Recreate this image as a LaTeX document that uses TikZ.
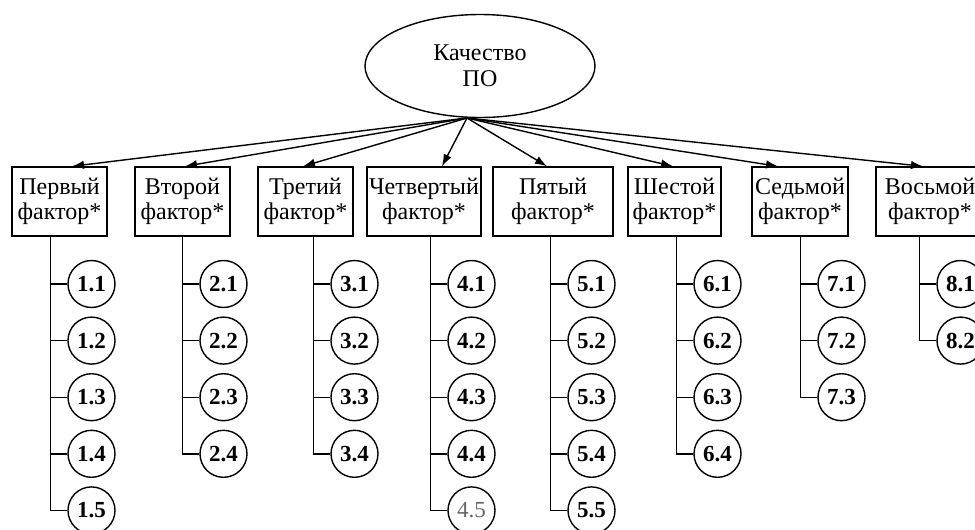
\documentclass[tikz,border=0pt]{standalone}
\usepackage{fontspec}
\setmainfont{Liberation Serif}
\usetikzlibrary{shapes.geometric,arrows.meta}
\tikzset{
  ln/.style={line width=1.4pt},
  fbox/.style={draw, ln, minimum height=69pt, inner sep=0pt, align=center,
    font=\fontsize{24}{25}\selectfont},
  root/.style={draw, ln, ellipse, minimum width=230pt, minimum height=103pt,
    inner sep=0pt, align=center, font=\fontsize{24}{25.5}\selectfont},
  crit/.style={draw, ln, circle, minimum size=47pt, inner sep=0pt,
    font=\fontsize{23}{23}\selectfont\bfseries},
  faint/.style={crit, font=\fontsize{23}{23}\selectfont, text=black!60},
  arr/.style={ln, -{Latex[length=12pt,width=8.5pt]}},
  tree/.style={ln},
}
\begin{document}
\begin{tikzpicture}[x=1pt,y=-1pt]
\clip (0,0) rectangle (975,530);

% root of the hierarchy
\node[root] (q) at (480,66) {Качество\\ПО};
\coordinate (hub) at (467,118);

% factors
\node[fbox, minimum width=95pt]  (b1) at (59.5,201.5)  {Первый\\фактор*};
\node[fbox, minimum width=95pt]  (b2) at (182.5,201.5) {Второй\\фактор*};
\node[fbox, minimum width=95pt]  (b3) at (305.5,201.5) {Третий\\фактор*};
\node[fbox, minimum width=114pt] (b4) at (424,201.5)   {Четвертый\\фактор*};
\node[fbox, minimum width=120pt] (b5) at (553,201.5)   {Пятый\\фактор*};
\node[fbox, minimum width=93pt]  (b6) at (674.5,201.5) {Шестой\\фактор*};
\node[fbox, minimum width=96pt]  (b7) at (800,201.5)   {Седьмой\\фактор*};
\node[fbox, minimum width=108pt] (b8) at (930,201.5)   {Восьмой\\фактор*};

% arrows from the root to every factor
\draw[arr] (hub) -- ([xshift=12.5pt]b1.north);
\draw[arr] (hub) -- ([xshift=2.5pt]b2.north);
\draw[arr] (hub) -- ([xshift=-2.5pt]b3.north);
\draw[arr] (hub) -- ([xshift=18pt]b4.north);
\draw[arr] (hub) -- ([xshift=-6pt]b5.north);
\draw[arr] (hub) -- ([xshift=-1.5pt]b6.north);
\draw[arr] (hub) -- ([xshift=-22pt]b7.north);
\draw[arr] (hub) -- ([xshift=-7pt]b8.north);

% criteria of each factor
\foreach \k/\lx/\n in {1/51/5, 2/183/4, 3/314/4, 4/431/5, 5/551/5, 6/677/4, 7/801/3, 8/920/2}{
  \foreach \j in {1,...,\n}{
    \pgfmathsetmacro{\yy}{284+56.6*(\j-1)}
    \ifnum\k\j=45
      \node[faint] (c\k\j) at (\lx+40.5,\yy) {4.5};
    \else
      \node[crit] (c\k\j) at (\lx+40.5,\yy) {\k.\j};
    \fi
  }
}

% tree lines
\foreach \k/\n in {1/5, 2/4, 3/4, 4/5, 5/5, 6/4, 7/3, 8/2}{
  \draw[tree] ([xshift=-17pt]c\k1.west |- b\k.south) |- (c\k\n.west);
  \foreach \j in {1,...,\n}{
    \draw[tree] (c\k\j.west) -- ++(-17pt,0);
  }
}
\end{tikzpicture}
\end{document}
